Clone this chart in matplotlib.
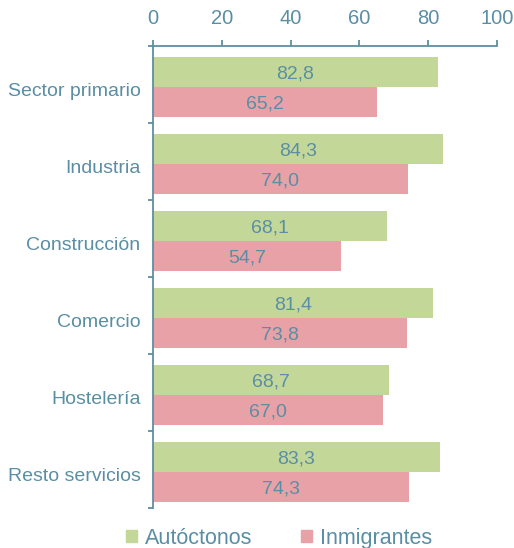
import numpy as np
import matplotlib.pyplot as plt
from matplotlib.patches import Patch

# Data
sectores = ['Sector primario', 'Industria', 'Construcción', 'Comercio', 'Hostelería', 'Resto servicios']
autoctonos = [82.8, 84.3, 68.1, 81.4, 68.7, 83.3]
inmigrantes = [65.2, 74.0, 54.7, 73.8, 67.0, 74.3]
xticks = [0, 20, 40, 60, 80, 100]

# Colours
verde = '#c3d898'
rosa = '#e8a1a7'
texto = '#5a8ea4'
eje = '#5e8fa3'

plt.rcParams['font.family'] = ['Liberation Sans', 'DejaVu Sans']

fig = plt.figure(figsize=(5.14, 5.48), dpi=100)
ax = fig.add_axes([153 / 514, 1 - 508 / 548, 344 / 514, 462 / 548])

y = np.arange(len(sectores))
h = 0.39
off = 0.03
ax.barh(y - h / 2 + off, autoctonos, height=h, color=verde)
ax.barh(y + h / 2 + off, inmigrantes, height=h, color=rosa)

def fmt(v):
    return f'{v:.1f}'.replace('.', ',')

for i in range(len(sectores)):
    ax.text(autoctonos[i] / 2, y[i] - h / 2 + off, fmt(autoctonos[i]),
            ha='center', va='center_baseline', color=texto, fontsize=14)
    ax.text(inmigrantes[i] / 2, y[i] + h / 2 + off, fmt(inmigrantes[i]),
            ha='center', va='center_baseline', color=texto, fontsize=14)

ax.set_xlim(0, 100)
ax.set_ylim(len(sectores) - 0.5, -0.5)

ax.xaxis.tick_top()
ax.set_xticks(xticks)
ax.tick_params(axis='x', colors=eje, labelcolor=texto, labelsize=14.5, length=4.3,
               width=1.3, pad=9)

ax.set_yticks(y + 0.06)
ax.set_yticklabels(sectores)
ax.set_yticks(np.arange(-0.5, len(sectores), 1), minor=True)
ax.tick_params(axis='y', which='major', length=0, labelcolor=texto, labelsize=14, pad=9)
ax.tick_params(axis='y', which='minor', length=3.6, width=1.3, colors=eje)

for s in ['right', 'bottom']:
    ax.spines[s].set_visible(False)
for s in ['top', 'left']:
    ax.spines[s].set_color(eje)
    ax.spines[s].set_linewidth(1.3)

handles = [Patch(color=verde, label='Autóctonos'), Patch(color=rosa, label='Inmigrantes')]
fig.legend(handles=handles, loc='center', bbox_to_anchor=(0.543, 0.018), ncol=2,
           frameon=False, fontsize=15.5, labelcolor=texto, handlelength=0.5,
           handleheight=0.5, handletextpad=0.35, columnspacing=2.3,
           borderpad=0)

fig.savefig('out.png', dpi=100)
